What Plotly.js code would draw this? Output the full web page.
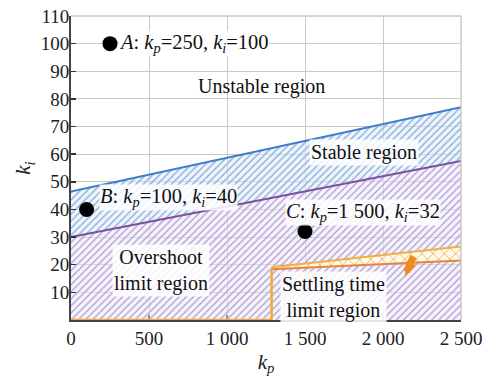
<!DOCTYPE html>
<html>
<head>
<meta charset="utf-8">
<script src="https://cdn.plot.ly/plotly-3.0.1.min.js"></script>
<style>html,body{margin:0;padding:0;background:#fff;}#chart{width:490px;height:376px;}</style>
</head>
<body>
<div id="chart"></div>
<script>
// Boundary lines (kp, ki)
const stableKp = [0, 2500];
const stableKi = [46.5, 77];
const overshootKp = [0, 2500];
const overshootKi = [30, 57.5];
const settleLowKp = [1286, 2500];
const settleLowKi = [18.4, 21.5];
const settleHighKp = [1286, 2500];
const settleHighKi = [19.1, 26.6];
const settleEdgeKp = [0, 1286, 1286];
const settleEdgeKi = [0, 0, 18.4];
// Operating points
const pointNames = ['A', 'B', 'C'];
const pointKp = [250, 100, 1500];
const pointKi = [100, 40, 32];
const pointKpText = ['250', '100', '1 500'];
// Tick labels
const xTickVals = [0, 500, 1000, 1500, 2000, 2500];
const xTickText = ['0', '500', '1 000', '1 500', '2 000', '2 500'];
const yTickVals = [10, 20, 30, 40, 50, 60, 70, 80, 90, 100, 110];
// Region labels
const regionText = ['Unstable region', 'Stable region', 'Overshoot<br>limit region', 'Settling time<br>limit region'];
const regionKp = [1224, 1878, 577, 1680];
const regionKi = [84.4, 60.5, 17.8, 8.2];
// Direction arrow for the settling-time limit (tail -> head)
const arrowShaftKp = [2195, 2150];
const arrowShaftKi = [23.0, 17.5];
const arrowHeadKp = [2138];
const arrowHeadKi = [15.6];

const FONT = 'Liberation Serif, Times New Roman, serif';

const traces = [
  { x: overshootKp, y: overshootKi, mode: 'lines', fill: 'tozeroy',
    line: {color: '#7d4f9e', width: 2},
    fillpattern: {shape: '/', fgcolor: '#b09fd4', bgcolor: 'rgba(238,232,247,0.5)', size: 5, solidity: 0.28},
    hoverinfo: 'skip' },
  { x: stableKp, y: stableKi, mode: 'lines', fill: 'tonexty',
    line: {color: '#3f7cc9', width: 2},
    fillpattern: {shape: '/', fgcolor: '#86aedd', bgcolor: 'rgba(225,236,248,0.5)', size: 5, solidity: 0.28},
    hoverinfo: 'skip' },
  { x: settleLowKp, y: settleLowKi, mode: 'lines',
    line: {color: '#e8843a', width: 2}, hoverinfo: 'skip' },
  { x: settleHighKp, y: settleHighKi, mode: 'lines', fill: 'tonexty',
    line: {color: '#f0b040', width: 2},
    fillpattern: {shape: 'x', fgcolor: '#f0b040', bgcolor: '#fffaf0', size: 8, solidity: 0.2},
    hoverinfo: 'skip' },
  { x: settleEdgeKp, y: settleEdgeKi, mode: 'lines',
    line: {color: '#f0aa30', width: 2.5}, hoverinfo: 'skip', cliponaxis: false },
  { x: arrowShaftKp, y: arrowShaftKi, mode: 'lines',
    line: {color: '#ee8a22', width: 7}, hoverinfo: 'skip' },
  { x: arrowHeadKp, y: arrowHeadKi, mode: 'markers',
    marker: {symbol: 'arrow', angle: 207, size: 16, color: '#ee8a22', line: {width: 0}}, hoverinfo: 'skip' },
  { x: pointKp, y: pointKi, mode: 'markers',
    marker: {color: '#000', size: 15}, hoverinfo: 'skip' }
];

const labelShift = [{xs: 8, ys: 0}, {xs: 12, ys: 12}, {xs: -20, ys: 19}];
const annotations = [];
pointNames.forEach((n, i) => {
  annotations.push({
    x: pointKp[i], y: pointKi[i], xref: 'x', yref: 'y', showarrow: false,
    text: '<i>' + n + '</i>: <i>k</i><sub><i>p</i></sub>=' + pointKpText[i] + ', <i>k</i><sub><i>i</i></sub>=' + pointKi[i],
    xanchor: 'left', yanchor: 'middle', xshift: labelShift[i].xs, yshift: labelShift[i].ys,
    bgcolor: 'rgba(255,255,255,0.85)', borderpad: 0,
    font: {family: FONT, size: 20.5, color: '#111'}
  });
});
regionText.forEach((t, i) => {
  annotations.push({
    x: regionKp[i], y: regionKi[i], xref: 'x', yref: 'y', showarrow: false, text: t,
    bgcolor: i === 0 ? 'rgba(0,0,0,0)' : 'rgba(255,255,255,0.85)', borderpad: 1,
    font: {family: FONT, size: 20, color: '#111'}
  });
});

const layout = {
  width: 490, height: 376,
  margin: {l: 71, r: 29, t: 16, b: 56},
  paper_bgcolor: '#fff', plot_bgcolor: '#fff',
  showlegend: false,
  font: {family: FONT, size: 19, color: '#222'},
  xaxis: {
    range: [0, 2500], tickvals: xTickVals, ticktext: xTickText,
    ticks: 'inside', ticklen: 5, tickwidth: 1.5, tickcolor: '#333',
    showline: true, linecolor: '#444', linewidth: 2, layer: 'below traces',
    showgrid: true, gridcolor: '#c9c9c9', gridwidth: 1, zeroline: false,
    tickfont: {family: FONT, size: 19, color: '#222'},
    title: {text: '<i>k</i><sub><i>p</i></sub>', font: {family: FONT, size: 21, color: '#222'}, standoff: 10}
  },
  yaxis: {
    range: [0, 110], tickvals: yTickVals,
    ticks: 'inside', ticklen: 5, tickwidth: 1.5, tickcolor: '#333',
    showline: true, linecolor: '#444', linewidth: 2,
    showgrid: true, gridcolor: '#c9c9c9', gridwidth: 1, zeroline: false,
    ticklabelstandoff: -4,
    tickfont: {family: FONT, size: 19, color: '#222'},
    title: {text: '<i>k</i><sub><i>i</i></sub>', font: {family: FONT, size: 21, color: '#222'}, standoff: 4}
  },
  shapes: [
    {type: 'line', xref: 'paper', yref: 'paper', x0: 0, x1: 1, y0: 1, y1: 1, line: {color: '#c9c9c9', width: 1.5}},
    {type: 'line', xref: 'paper', yref: 'paper', x0: 1, x1: 1, y0: 0, y1: 1, line: {color: '#c9c9c9', width: 1.5}}
  ],
  annotations: annotations
};

Plotly.newPlot('chart', traces, layout, {staticPlot: true, displayModeBar: false});
</script>
</body>
</html>
